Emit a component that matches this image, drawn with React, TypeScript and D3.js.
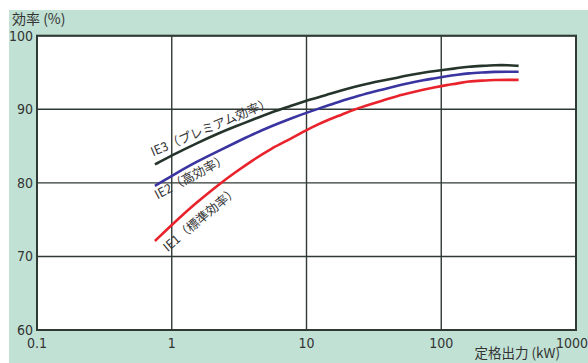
import React, { useEffect, useRef } from "react";
import * as d3 from "d3";

// 定格出力 (kW)
const outputs = [0.75, 1.1, 1.5, 2.2, 3, 4, 5.5, 7.5, 11, 15, 18.5, 22, 30, 37, 45, 55, 75, 90, 110, 132, 160, 200, 250, 315, 375];
// 効率 (%)
const ie3 = [82.5, 84.1, 85.3, 86.7, 87.7, 88.6, 89.6, 90.4, 91.4, 92.1, 92.6, 93.0, 93.6, 93.9, 94.2, 94.6, 95.0, 95.2, 95.4, 95.6, 95.8, 95.9, 96.0, 96.0, 95.9];
const ie2 = [79.6, 81.4, 82.8, 84.3, 85.5, 86.6, 87.7, 88.7, 89.8, 90.6, 91.2, 91.6, 92.3, 92.7, 93.1, 93.5, 94.0, 94.2, 94.5, 94.7, 94.9, 95.0, 95.1, 95.1, 95.1];
const ie1 = [72.1, 75.0, 77.2, 79.7, 81.5, 83.1, 84.7, 85.9, 87.6, 88.7, 89.3, 89.9, 90.7, 91.2, 91.7, 92.1, 92.7, 93.0, 93.3, 93.5, 93.8, 93.9, 94.0, 94.0, 94.0];

const xTicks = [0.1, 1, 10, 100, 1000];
const xTickLabels = ["0.1", "1", "10", "100", "1000"];
const yTicks = [60, 70, 80, 90, 100];

const series = [
  { name: "IE3（プレミアム効率）", values: ie3, color: "#26352c", dx: -2, dy: -8, angle: -23, baseline: "alphabetic" },
  { name: "IE2（高効率）", values: ie2, color: "#3a34a0", dx: -3, dy: 3, angle: -28, baseline: "hanging" },
  { name: "IE1（標準効率）", values: ie1, color: "#e8232b", dx: 5, dy: 2, angle: -40, baseline: "hanging" },
];

const W = 588;
const H = 363;

const App: React.FC = () => {
  const svgRef = useRef<SVGSVGElement>(null);

  useEffect(() => {
    const svg = d3.select(svgRef.current);
    svg.html("");

    const margin = { top: 35.7, right: 12, bottom: 33, left: 37 };
    const x = d3.scaleLog().domain([0.1, 1000]).range([margin.left, W - margin.right]);
    const y = d3.scaleLinear().domain([60, 100]).range([H - margin.bottom, margin.top]);
    const numFont = "'Liberation Sans Narrow', 'DejaVu Sans Condensed', 'Liberation Sans', sans-serif";
    const jpFont = "'Noto Sans CJK JP', sans-serif";

    // 背景
    svg.append("rect").attr("x", 0).attr("y", 0).attr("width", W).attr("height", H).attr("fill", "#fff");
    svg.append("rect").attr("x", 9).attr("y", 10).attr("width", W - 9).attr("height", H - 10).attr("fill", "#c1e1d4");
    svg.append("rect")
      .attr("x", x(0.1)).attr("y", y(100))
      .attr("width", x(1000) - x(0.1)).attr("height", y(60) - y(100))
      .attr("fill", "#fff");

    // グリッド
    const grid = svg.append("g").attr("stroke", "#2f3a35").attr("stroke-width", 1.4);
    yTicks.forEach((t) => {
      grid.append("line").attr("x1", x(0.1)).attr("x2", x(1000)).attr("y1", y(t)).attr("y2", y(t));
    });
    xTicks.forEach((t) => {
      grid.append("line").attr("x1", x(t)).attr("x2", x(t)).attr("y1", y(100)).attr("y2", y(60));
    });
    svg.append("rect")
      .attr("x", x(0.1)).attr("y", y(100))
      .attr("width", x(1000) - x(0.1)).attr("height", y(60) - y(100))
      .attr("fill", "none").attr("stroke", "#2f3a35").attr("stroke-width", 2);

    // 目盛ラベル
    yTicks.forEach((t) => {
      svg.append("text")
        .attr("x", x(0.1) - 4).attr("y", y(t) + 5)
        .attr("text-anchor", "end")
        .attr("font-family", numFont).attr("font-size", 14)
        .attr("fill", "#333").text(String(t));
    });
    xTicks.forEach((t, i) => {
      svg.append("text")
        .attr("x", i === xTicks.length - 1 ? W : x(t)).attr("y", y(60) + 18)
        .attr("text-anchor", i === xTicks.length - 1 ? "end" : "middle")
        .attr("font-family", numFont).attr("font-size", 14)
        .attr("fill", "#333").text(xTickLabels[i]);
    });

    svg.append("text").attr("x", 12).attr("y", 24)
      .attr("font-family", jpFont).attr("font-size", 14).attr("fill", "#333")
      .text("効率 (%)");
    svg.append("text").attr("x", 560).attr("y", 358).attr("text-anchor", "end")
      .attr("font-family", jpFont).attr("font-size", 13.5).attr("fill", "#333")
      .text("定格出力 (kW)");

    // 曲線
    const line = d3.line<[number, number]>()
      .x((d) => x(d[0]))
      .y((d) => y(d[1]))
      .curve(d3.curveBasis);

    series.forEach((s) => {
      const pts = outputs.map((o, i) => [o, s.values[i]] as [number, number]);
      svg.append("path").datum(pts)
        .attr("fill", "none").attr("stroke", s.color).attr("stroke-width", 2.6)
        .attr("d", line);

      const px = x(outputs[0]) + s.dx;
      const py = y(s.values[0]) + s.dy;
      svg.append("text")
        .attr("transform", `translate(${px},${py}) rotate(${s.angle})`)
        .attr("dominant-baseline", s.baseline)
        .attr("font-family", jpFont).attr("font-size", 12.5).attr("fill", "#333")
        .text(s.name);
    });
  }, []);

  return (
    <svg
      ref={svgRef}
      width={W}
      height={H}
      style={{ position: "absolute", left: 0, top: 0, display: "block" }}
    />
  );
};

export default App;
